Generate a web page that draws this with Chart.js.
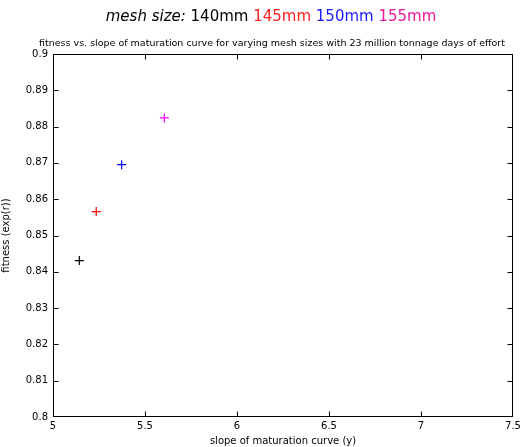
<!DOCTYPE html>
<html><head><meta charset="utf-8">
<script src="https://cdn.jsdelivr.net/npm/chart.js@4/dist/chart.umd.min.js"></script>
<style>html,body{margin:0;padding:0;background:#fff}#wrap{width:521px;height:447px}</style>
</head><body><div id="wrap"><canvas id="c" width="521" height="447"></canvas></div>
<script>
const meshSizes = ['140mm','145mm','150mm','155mm'];
const slopes = [5.143, 5.235, 5.373, 5.605];
const fitness = [0.8431, 0.8566, 0.8695, 0.8824];
const markerColors = ['#000000','#ff0000','#0000ff','#ff00ff'];
const labelColors = ['#000000','#ff2020','#1a1aff','#ee1899'];
const xTicks = [5,5.5,6,6.5,7,7.5];
const yTicks = [0.8,0.81,0.82,0.83,0.84,0.85,0.86,0.87,0.88,0.89,0.9];
const subTitle = 'fitness vs. slope of maturation curve for varying mesh sizes with 23 million tonnage days of effort';

const datasets = meshSizes.map((m,i)=>({
  label: m,
  data: [{x: slopes[i], y: fitness[i]}],
  pointStyle: 'cross', pointRadius: 4.5, pointBorderWidth: 1.2,
  borderColor: markerColors[i], backgroundColor: markerColors[i], showLine:false
}));

const decor = {
  id:'decor',
  afterDraw(chart){
    const ctx = chart.ctx, a = chart.chartArea, xs = chart.scales.x, ys = chart.scales.y;
    ctx.save();
    ctx.strokeStyle = '#000'; ctx.lineWidth = 1;
    const L = Math.round(a.left)+0.5, R = Math.round(a.right)-0.5, T = Math.round(a.top)+0.5, B = Math.round(a.bottom)-0.5;
    ctx.strokeRect(L, T, R-L, B-T);
    ctx.beginPath();
    xTicks.forEach(v=>{ let p = Math.round(xs.getPixelForValue(v))+0.5; p = Math.min(Math.max(p,L),R);
      ctx.moveTo(p,B); ctx.lineTo(p,B-5); ctx.moveTo(p,T); ctx.lineTo(p,T+5); });
    yTicks.forEach(v=>{ let p = Math.round(ys.getPixelForValue(v))+0.5; p = Math.min(Math.max(p,T),B);
      ctx.moveTo(L,p); ctx.lineTo(L+5,p); ctx.moveTo(R,p); ctx.lineTo(R-5,p); });
    ctx.stroke();
    const parts = [{t:'mesh size: ', c:'#000', f:'italic 15px "DejaVu Sans"'}];
    meshSizes.forEach((m,i)=>parts.push({t:m+(i<meshSizes.length-1?' ':''), c:labelColors[i], f:'15px "DejaVu Sans"'}));
    let total = 0; parts.forEach(p=>{ctx.font=p.f; p.w=ctx.measureText(p.t).width; total+=p.w;});
    let x = 271 - total/2;
    ctx.textBaseline='alphabetic'; ctx.textAlign='left';
    parts.forEach(p=>{ctx.font=p.f; ctx.fillStyle=p.c; ctx.fillText(p.t,x,21); x+=p.w;});
    ctx.font = '9.5px "DejaVu Sans"'; ctx.fillStyle='#000'; ctx.textAlign='center';
    ctx.fillText(subTitle, 272, 46, 472);
    ctx.restore();
  }
};

new Chart(document.getElementById('c'), {
  type:'scatter',
  data:{datasets},
  options:{
    responsive:false, animation:false, devicePixelRatio:1,
    layout:{padding:{top:54,right:8,left:0,bottom:0}},
    plugins:{legend:{display:false}, title:{display:false}, tooltip:{enabled:false}},
    scales:{
      x:{type:'linear', min:5, max:7.5,
        afterBuildTicks(s){ s.ticks = xTicks.map(v=>({value:v})); },
        afterFit(s){ s.height = 30; s.paddingLeft = 0; s.paddingRight = 0; },
        grid:{display:false, drawTicks:false}, border:{display:false},
        ticks:{padding:3, color:'#000', font:{family:'DejaVu Sans', size:10}, maxRotation:0, callback:v=>String(v)},
        title:{display:true, text:'slope of maturation curve (y)', color:'#000', font:{family:'DejaVu Sans', size:10}, padding:{top:0,bottom:0}}
      },
      y:{type:'linear', min:0.8, max:0.9,
        afterBuildTicks(s){ s.ticks = yTicks.map(v=>({value:v})); },
        afterFit(s){ s.width = 53; s.paddingTop = 0; s.paddingBottom = 0; },
        grid:{display:false, drawTicks:false}, border:{display:false},
        ticks:{padding:5, color:'#000', font:{family:'DejaVu Sans', size:10}, callback:v=>String(parseFloat(v.toFixed(2)))},
        title:{display:true, text:'fitness (exp(r))', color:'#000', font:{family:'DejaVu Sans', size:10}, padding:{top:0,bottom:2}}
      }
    }
  },
  plugins:[decor]
});
</script></body></html>
